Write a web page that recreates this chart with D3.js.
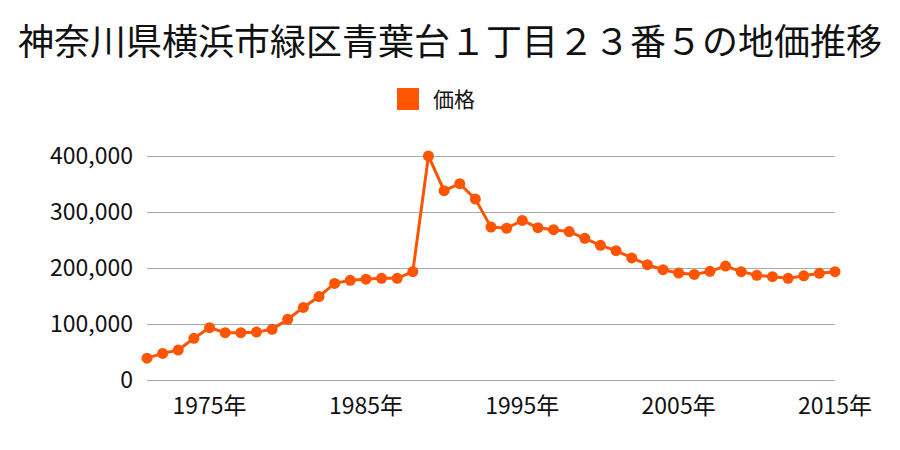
<!DOCTYPE html>
<html lang="ja">
<head>
    <meta charset="UTF-8">
    <title>地価推移</title>
    <script src="https://cdn.jsdelivr.net/npm/d3@7"></script>
    <style>
        body { margin: 0; background: white; }
        svg { display: block; font-family: "Noto Sans CJK JP", sans-serif; }
        .grid line { stroke: #aaaaaa; stroke-width: 1px; }
    </style>
</head>
<body>
    <script>
        // ---------------- data ----------------
        const title = "神奈川県横浜市緑区青葉台１丁目２３番５の地価推移";
        const seriesName = "価格";
        const years = d3.range(1971, 2016);
        const prices = [
            39000, 47500, 53500, 74500, 93500, 84500, 84500, 85500, 90500, 108500,
            129500, 149000, 172500, 178000, 180000, 181500, 181500, 193500, 400000, 338000,
            350500, 323000, 273000, 271000, 285000, 272000, 268500, 265000, 253000, 240500,
            231000, 218000, 206000, 197000, 191000, 188500, 194000, 203500, 193500, 187000,
            184500, 181500, 186000, 190500, 193500
        ];
        const yTicks = [0, 100000, 200000, 300000, 400000];
        const xTicks = [1975, 1985, 1995, 2005, 2015];
        const color = "#ff5500";

        // ---------------- layout ----------------
        const width = 900, height = 450;
        const svg = d3.select("body").append("svg")
            .attr("width", width)
            .attr("height", height);

        const x = d3.scaleLinear().domain([1971, 2015]).range([147, 835]);
        const y = d3.scaleLinear().domain([0, 400000]).range([380, 156]);

        // title
        svg.append("text")
            .attr("x", width / 2)
            .attr("y", 55)
            .attr("text-anchor", "middle")
            .attr("font-size", 36)
            .attr("fill", "#111")
            .text(title);

        // legend
        svg.append("rect")
            .attr("x", 397).attr("y", 88)
            .attr("width", 22).attr("height", 22)
            .attr("fill", color);
        svg.append("text")
            .attr("x", 433).attr("y", 107)
            .attr("font-size", 21)
            .attr("fill", "#111")
            .text(seriesName);

        // gridlines
        svg.append("g").attr("class", "grid")
            .selectAll("line")
            .data(yTicks)
            .join("line")
            .attr("x1", x.range()[0]).attr("x2", x.range()[1])
            .attr("y1", d => y(d) + 0.5).attr("y2", d => y(d) + 0.5);

        // y axis labels
        const fmt = d3.format(",");
        svg.append("g")
            .selectAll("text")
            .data(yTicks)
            .join("text")
            .attr("x", 133)
            .attr("y", d => y(d))
            .attr("dy", "0.35em")
            .attr("text-anchor", "end")
            .attr("font-size", 23)
            .attr("fill", "#111")
            .text(d => fmt(d));

        // x axis labels
        svg.append("g")
            .selectAll("text")
            .data(xTicks)
            .join("text")
            .attr("x", d => x(d))
            .attr("y", 414)
            .attr("text-anchor", "middle")
            .attr("font-size", 23)
            .attr("fill", "#111")
            .text(d => d + "年");

        // line + points
        const pts = years.map((yr, i) => [yr, prices[i]]);
        svg.append("path")
            .datum(pts)
            .attr("fill", "none")
            .attr("stroke", color)
            .attr("stroke-width", 3)
            .attr("d", d3.line().x(d => x(d[0])).y(d => y(d[1])));

        svg.append("g")
            .selectAll("circle")
            .data(pts)
            .join("circle")
            .attr("cx", d => x(d[0]))
            .attr("cy", d => y(d[1]))
            .attr("r", 5.5)
            .attr("fill", color);
    </script>
</body>
</html>
